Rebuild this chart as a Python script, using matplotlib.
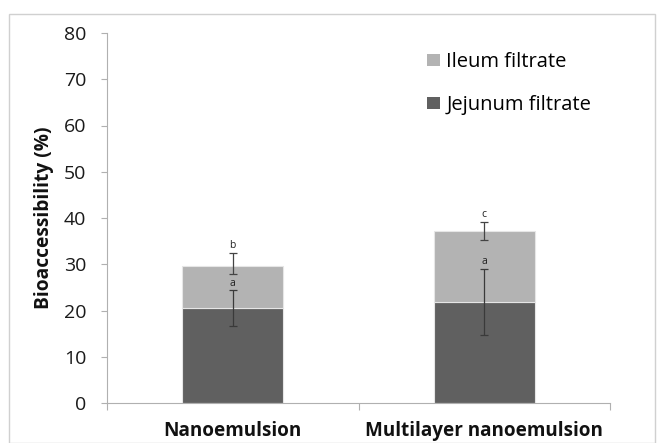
import matplotlib
matplotlib.use("Agg")
import matplotlib.pyplot as plt
from matplotlib.patches import Rectangle, Patch

categories = ["Nanoemulsion", "Multilayer nanoemulsion"]
jejunum = [20.5, 21.8]
ileum = [9.2, 15.4]
jejunum_err_low = [3.85, 7.2]
jejunum_err_high = [3.85, 7.1]
total_err_low = [1.8, 1.95]
total_err_high = [2.7, 1.95]
jejunum_letters = ["a", "a"]
total_letters = ["b", "c"]
yticks = [0, 10, 20, 30, 40, 50, 60, 70, 80]

plt.rcParams['font.family'] = ['Open Sans', 'DejaVu Sans']

fig = plt.figure(figsize=(6.63, 4.43), dpi=100)
ax = fig.add_axes([107/663, 1-403/443, (610-107)/663, (403-33)/443])

x = list(range(len(categories)))
dark = "#606060"
light = "#b3b3b3"
ax.bar(x, jejunum, width=0.4, color=dark, edgecolor="#e6e6e6", linewidth=0.8, zorder=2)
ax.bar(x, ileum, width=0.4, bottom=jejunum, color=light, edgecolor="#e6e6e6", linewidth=0.8, zorder=2)

totals = [j + i for j, i in zip(jejunum, ileum)]
ax.errorbar(x, jejunum, yerr=[jejunum_err_low, jejunum_err_high], fmt="none", ecolor="#3a3a3a",
            elinewidth=0.9, capsize=3, capthick=0.9, zorder=3)
ax.errorbar(x, totals, yerr=[total_err_low, total_err_high], fmt="none", ecolor="#444444",
            elinewidth=0.9, capsize=3, capthick=0.9, zorder=3)

for xi, j, e, t in zip(x, jejunum, jejunum_err_high, jejunum_letters):
    ax.text(xi, j + e + 0.4, t, ha="center", va="bottom", fontsize=7.5, color="#222222")
for xi, tt, e, t in zip(x, totals, total_err_high, total_letters):
    ax.text(xi, tt + e + 0.4, t, ha="center", va="bottom", fontsize=7.5, color="#222222")

ax.set_xlim(-0.5, 1.5)
ax.set_ylim(0, 80)
ax.set_yticks(yticks)
ax.set_yticklabels([str(v) for v in yticks], fontsize=14, color="#1a1a1a")
ax.set_xticks([-0.5, 0.5, 1.5], minor=False)
ax.set_xticklabels([])
ax.set_xticks(x, minor=True)
ax.set_xticklabels(categories, minor=True, fontsize=13.6, fontweight="bold", color="#111111")
ax.tick_params(axis="x", which="minor", length=0, pad=13)
ax.tick_params(axis="x", which="major", length=5, color="#b0b0b0", direction="out")
ax.tick_params(axis="y", length=4.5, color="#b0b0b0", direction="out", pad=10.5)

for s in ["top", "right"]:
    ax.spines[s].set_visible(False)
ax.spines["left"].set_color("#b0b0b0")
ax.spines["bottom"].set_color("#b0b0b0")

ax.set_ylabel("Bioaccessibility (%)", fontsize=13.8, fontweight="bold", labelpad=7, color="#111111")

handles = [Patch(facecolor=light, edgecolor="none"), Patch(facecolor=dark, edgecolor="none")]
fig.legend(handles, ["Ileum filtrate", "Jejunum filtrate"], loc="upper left",
           bbox_to_anchor=(427/663, 1-52/443), frameon=False, fontsize=14.5,
           handlelength=0.65, handleheight=0.6, handletextpad=0.3, labelspacing=1.15,
           borderpad=0, borderaxespad=0)

fig.patches.append(Rectangle((9/663, 0.0), (655-9)/663, 1-14/443, transform=fig.transFigure,
                             fill=False, edgecolor="#d0d0d0", linewidth=1))

fig.savefig("out.png", dpi=100)
